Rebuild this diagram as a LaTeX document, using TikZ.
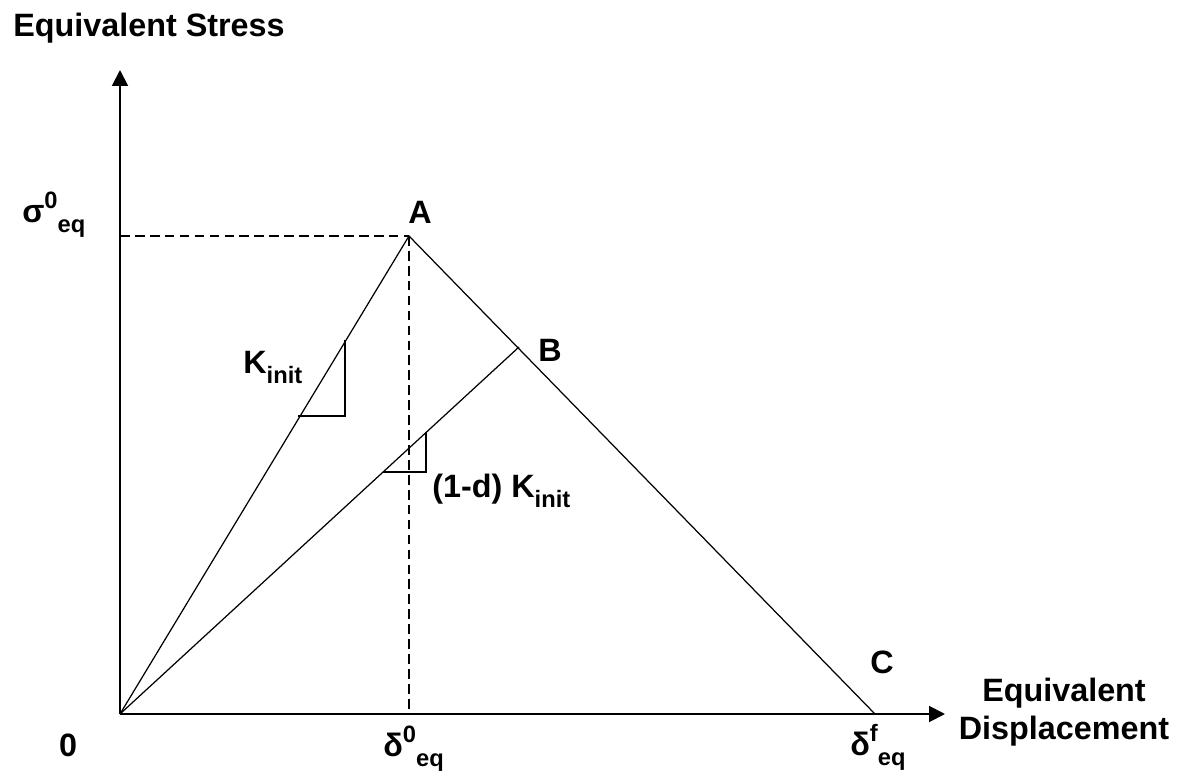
\documentclass[tikz,border=0pt]{standalone}
\usepackage{fontspec}
\setmainfont{Liberation Sans}
\usetikzlibrary{arrows.meta}
\newcommand{\lo}[1]{\raisebox{-0.32em}{\fontsize{13.5}{14}\selectfont #1}}
\newcommand{\hi}[1]{\raisebox{0.42em}{\fontsize{13.5}{14}\selectfont #1}}

\begin{document}
\begin{tikzpicture}[
  x=0.02cm,y=-0.02cm,
  axis/.style={line width=1.1pt,-{Triangle[length=9pt,width=9pt]}},
  curve/.style={line width=0.7pt},
  guide/.style={line width=0.8pt,dash pattern=on 5.5pt off 3pt},
  lbl/.style={font=\fontsize{18.4}{22}\selectfont\bfseries,inner sep=0pt}
]
\useasboundingbox (0,0) rectangle (1184,781);
% points of the law
\coordinate (O) at (120,714);
\coordinate (A) at (409,236);
\coordinate (B) at (519,347);
\coordinate (C) at (875,714);
\coordinate (ytop) at (120,70);
\coordinate (xend) at (945,714);
\coordinate (sy) at (120,236);
\coordinate (sx) at (409,714);
% axes
\draw[axis] (O)--(ytop);
\draw[axis] (O)--(xend);
% guides
\draw[guide] (sy)--(A);
\draw[guide] (A)--(sx);
% loading and softening
\draw[curve] (O)--(A)--(C);
\draw[curve] (O)--(B);
% slope triangles
\draw[curve] (298,416)--(345,416)--(345,340);
\draw[curve] (383,472)--(426,472)--(426,432);
% labels
\node[lbl] (ylabel) at (149,28) {Equivalent Stress};
\node[lbl,anchor=base west] (sig0) at (22,222) {σ\hi{0}\lo{eq}};
\node[lbl] (labA) at (420,212) {A};
\node[lbl] (labB) at (550,350) {B};
\node[lbl] (labC) at (882,662) {C};
\node[lbl,anchor=base west] (kinit) at (243,373) {K\lo{init}};
\node[lbl,anchor=base west] (kdam) at (432,497) {(1-d) K\lo{init}};
\node[lbl] (zero) at (68,745) {0};
\node[lbl,anchor=base west] (del0) at (383,756) {δ\hi{0}\lo{eq}};
\node[lbl,anchor=base west] (delf) at (850,755) {δ\hi{f}\lo{eq}};
\node[lbl,align=center] (xlabel) at (1064,712) {Equivalent\\Displacement};
\end{tikzpicture}
\end{document}
